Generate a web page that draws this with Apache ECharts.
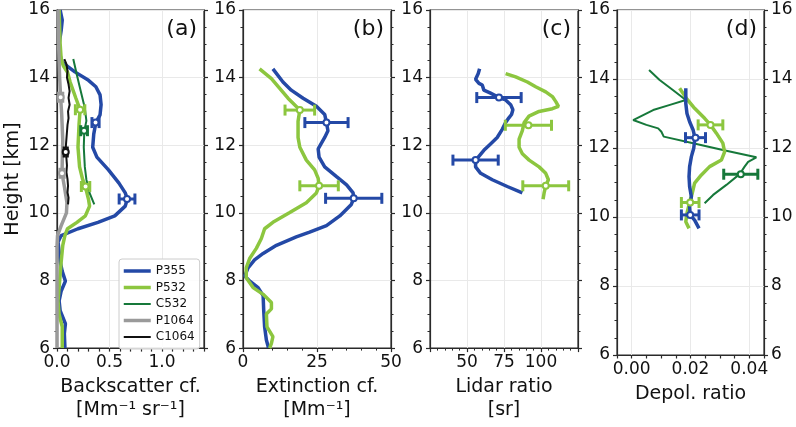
<!DOCTYPE html>
<html><head><meta charset="utf-8">
<script src="https://cdn.jsdelivr.net/npm/echarts@6/dist/echarts.min.js"></script>
<style>html,body{margin:0;padding:0;background:#fff}#c{width:796px;height:427px}</style>
</head><body><div id="c"></div>
<script>
// ---------- data: [value, height km] ----------
const aP355 = [[0.03,16.0],[0.05,15.7],[0.04,15.4],[0.02,15.0],[0.03,14.65],[0.05,14.45],[0.17,14.17],[0.30,13.92],[0.37,13.73],[0.41,13.49],[0.42,13.2],[0.41,12.9],[0.37,12.67],[0.35,12.33],[0.34,11.94],[0.38,11.65],[0.49,11.27],[0.59,10.88],[0.65,10.59],[0.67,10.41],[0.65,10.2],[0.55,9.91],[0.39,9.72],[0.2,9.53],[0.04,9.33],[0.01,9.14],[0.02,8.85],[0.03,8.56],[0.05,8.27],[0.08,7.98],[0.04,7.69],[0.02,7.4],[0.03,7.11],[0.08,6.72],[0.07,6.43],[0.075,6.05],[0.075,6.0]];
const aP532 = [[0.02,16.0],[0.025,15.5],[0.03,15.0],[0.04,14.55],[0.06,14.35],[0.1,14.16],[0.125,13.87],[0.18,13.39],[0.22,13.05],[0.21,12.62],[0.2,11.94],[0.215,11.36],[0.245,10.98],[0.27,10.78],[0.3,10.4],[0.31,10.2],[0.27,9.91],[0.19,9.72],[0.1,9.53],[0.075,9.33],[0.055,9.04],[0.04,8.56],[0.025,7.98],[0.01,7.4],[0.02,7.0],[0.05,6.63],[0.05,6.0]];
const aC532 = [[0.155,14.55],[0.19,14.07],[0.22,13.68],[0.265,13.1],[0.28,12.72],[0.26,12.43],[0.255,11.94],[0.265,11.36],[0.28,10.98],[0.31,10.59],[0.355,10.25]];
const aP1064 = [[0.01,16.0],[0.015,15.0],[0.02,14.5],[0.025,14.0],[0.035,13.39],[0.045,12.9],[0.055,12.13],[0.05,11.5],[0.048,11.17],[0.07,10.78],[0.095,10.3],[0.09,10.0],[0.04,9.62],[0.005,9.33],[0.0,9.0],[0.0,8.0],[0.0,7.0],[0.0,6.0]];
const aC1064 = [[0.07,14.55],[0.09,14.4],[0.1,14.2],[0.095,14.0],[0.11,13.8],[0.12,13.6],[0.11,13.4],[0.12,13.2],[0.105,13.0],[0.11,12.8],[0.1,12.6],[0.095,12.4],[0.09,12.2],[0.085,12.0],[0.085,11.8],[0.09,11.6],[0.095,11.4],[0.09,11.2],[0.1,11.0],[0.105,10.8],[0.1,10.6],[0.11,10.45],[0.105,10.25]];
const bP355 = [[10.1,14.26],[13.5,13.87],[16.3,13.63],[20.3,13.39],[24.8,13.15],[27.6,12.91],[28.2,12.67],[28.7,12.43],[27.6,12.23],[25.4,11.89],[25.7,11.65],[27.6,11.36],[31.6,11.07],[35.0,10.83],[37.2,10.59],[37.4,10.43],[36.6,10.25],[32.7,9.91],[28.2,9.62],[22.5,9.43],[18.0,9.29],[11.3,9.04],[6.8,8.8],[3.9,8.61],[1.7,8.37],[0.6,8.13],[2.3,7.98],[5.1,7.79],[6.8,7.55],[7.0,7.11],[7.3,6.63],[7.9,6.24],[8.5,6.05],[8.5,6.0]];
const bP532 = [[5.6,14.26],[9.6,13.97],[12.4,13.68],[15.2,13.39],[19.2,13.04],[18.6,12.71],[18.6,12.23],[19.2,11.94],[21.4,11.56],[24.2,11.27],[25.4,11.02],[25.7,10.8],[24.8,10.59],[21.4,10.3],[15.8,10.01],[10.1,9.72],[7.3,9.53],[6.2,9.24],[4.5,8.95],[2.3,8.66],[1.1,8.37],[1.1,8.08],[3.4,7.79],[6.8,7.59],[9.6,7.35],[9.6,7.16],[7.9,7.01],[8.1,6.63],[10.1,6.34],[9.6,6.14],[9.0,6.0]];
const cP355 = [[58.5,14.26],[57.6,14.12],[55.8,13.95],[58.1,13.83],[60.3,13.78],[61.4,13.63],[65.9,13.54],[71.6,13.41],[76.1,13.34],[79.5,13.2],[81.0,13.05],[80.1,12.91],[78.3,12.81],[76.1,12.67],[73.8,12.47],[70.4,12.23],[65.9,12.04],[61.4,11.85],[57.6,11.65],[55.8,11.56],[55.8,11.36],[59.2,11.17],[67.1,10.98],[77.2,10.78],[87.4,10.59]];
const cP532 = [[76.1,14.12],[82.9,14.02],[90.8,13.87],[96.4,13.73],[103.2,13.58],[107.7,13.44],[110,13.29],[111.8,13.15],[107.7,13.08],[98.7,13.0],[91.9,12.86],[88.6,12.67],[87.4,12.43],[85.2,12.18],[85.2,11.94],[87.4,11.75],[92,11.56],[98.7,11.36],[103.2,11.17],[105,10.98],[103.2,10.8],[102.1,10.59],[101.4,10.4]];
const dP355 = [[0.0184,13.73],[0.0184,13.29],[0.0188,13.0],[0.0197,12.76],[0.0209,12.52],[0.0215,12.3],[0.0211,11.99],[0.0203,11.75],[0.0197,11.46],[0.0195,11.17],[0.0197,10.88],[0.0203,10.59],[0.0197,10.3],[0.0199,10.06],[0.0214,9.91],[0.0229,9.67]];
const dP532 = [[0.0163,13.73],[0.0186,13.44],[0.0214,13.15],[0.0248,12.86],[0.0268,12.67],[0.0288,12.43],[0.031,12.14],[0.0316,11.89],[0.0305,11.65],[0.0265,11.46],[0.0237,11.22],[0.0214,10.98],[0.0206,10.69],[0.0197,10.42],[0.0188,10.11],[0.0184,9.86],[0.0195,9.67]];
const dC532 = [[0.0059,14.26],[0.0095,13.97],[0.014,13.68],[0.0184,13.39],[0.013,13.25],[0.0073,13.1],[0.0005,12.81],[0.005,12.67],[0.009,12.57],[0.0101,12.47],[0.0109,12.33],[0.0209,12.14],[0.031,11.94],[0.0424,11.73],[0.0396,11.6],[0.0384,11.46],[0.0368,11.25],[0.0322,10.93],[0.0277,10.64],[0.0248,10.4]];
// error bars: [value, height, half-width]
const errA_P355 = [[0.367,12.67,0.034],[0.667,10.41,0.075]];
const errA_P532 = [[0.22,13.05,0.045],[0.272,10.78,0.04]];
const errA_C532 = [[0.258,12.43,0.032]];
const errA_P1064 = [[0.035,13.42,0.02],[0.048,11.17,0.02]];
const errA_C1064 = [[0.083,11.8,0.015]];
const errB_P355 = [[28.2,12.67,7.3],[37.4,10.43,9.5]];
const errB_P532 = [[19.2,13.04,5.0],[25.7,10.8,6.5]];
const errC_P355 = [[71.6,13.41,15],[55.8,11.56,15.3]];
const errC_P532 = [[91.5,12.59,15.6],[103.2,10.8,15.5]];
const errD_P355 = [[0.0217,12.3,0.0034],[0.0199,10.06,0.003]];
const errD_P532 = [[0.0268,12.67,0.0042],[0.0199,10.42,0.003]];
const errD_C532 = [[0.0371,11.24,0.0058]];
const legendNames = ['P355','P532','C532','P1064','C1064'];
const panelLabels = ['(a)','(b)','(c)','(d)'];
const gridA = [0.5, 1.0];
const gridD = [0, 0.02, 0.04];

// ---------- styling ----------
const FONT = 'DejaVu Sans';
const TXT = '#111';
const COL = {P355:'#2449a6', P532:'#8cc63f', C532:'#16783a', P1064:'#9a9a9a', C1064:'#111111'};
const WID = {P355:3.5, P532:3.5, C532:2, P1064:3.5, C1064:2};
const panels = [{left:57,width:147},{left:243,width:148},{left:430,width:148},{left:617,width:147}];
const TOP = 10, HGT = 345, AX = '#2a2a2a', GRIDC = '#e9e9e9';

const grid = panels.map(p => ({left:p.left, top:TOP, width:p.width, height:HGT, show:true, borderColor:AX, borderWidth:1.2, backgroundColor:'transparent'}));

function yAx(i, pos, labels, name) {
  return {type:'value', gridIndex:i, position:pos, min:6, max:16, interval:2,
    axisLine:{show:true, onZero:false, lineStyle:{color:AX, width:1.2}},
    axisTick:{show:true, length:4, lineStyle:{color:AX, width:1.2}},
    minorTick:{show:true, splitNumber:4, length:2.5, lineStyle:{color:AX}},
    axisLabel:{show:labels, fontFamily:FONT, fontSize:17, color:TXT, margin:7},
    splitLine:{show:pos==='left', lineStyle:{color:GRIDC, width:1}},
    minorSplitLine:{show:false},
    name:name||'', nameLocation:'middle', nameGap:34,
    nameTextStyle:{fontFamily:FONT, fontSize:19, color:TXT}};
}
const yAxis = [];
for (let i = 0; i < 4; i++) {
  yAxis.push(yAx(i, 'left', true, i === 0 ? 'Height [km]' : ''));
  yAxis.push(yAx(i, 'right', i === 3, ''));
}
function xBase(i, name) {
  return {type:'value', gridIndex:i, position:'bottom',
    axisLine:{show:true, onZero:false, lineStyle:{color:AX, width:1.2}},
    axisTick:{show:true, length:4, lineStyle:{color:AX, width:1.2}},
    axisLabel:{fontFamily:FONT, fontSize:17, color:TXT, margin:6},
    splitLine:{show:true, lineStyle:{color:GRIDC, width:1}},
    name:name, nameLocation:'middle', nameGap:26,
    nameTextStyle:{fontFamily:FONT, fontSize:19, color:TXT, lineHeight:23}};
}
const xA = Object.assign(xBase(0, 'Backscatter cf.\n[Mm\u207B\u00B9 sr\u207B\u00B9]'), {min:0, max:1.4, interval:0.1});
xA.axisTick.length = 3.5;
xA.splitLine = {show:false};
xA.axisLabel.formatter = v => { const r = Math.round(v*10); return (r % 5 === 0 && r <= 10) ? (r/10).toFixed(1) : ''; };
const xB = Object.assign(xBase(1, 'Extinction cf.\n[Mm\u207B\u00B9]'), {min:0, max:50, interval:25});
xB.minorTick = {show:true, splitNumber:5, length:2.5, lineStyle:{color:AX}};
const xC = Object.assign(xBase(2, 'Lidar ratio\n[sr]'), {min:25, max:125, interval:25});
xC.minorTick = {show:true, splitNumber:5, length:2.5, lineStyle:{color:AX}};
xC.axisLabel.showMinLabel = false; xC.axisLabel.showMaxLabel = false;
const xD = Object.assign(xBase(3, 'Depol. ratio'), {min:-0.005, max:0.045, interval:0.005});
xD.axisTick.length = 3.5;
xD.splitLine = {show:false};
xD.axisLabel.formatter = v => { const r = Math.round(v*1000); return (r % 20 === 0 && r >= 0 && r <= 40) ? (r/1000).toFixed(2) : ''; };
const xAxis = [xA, xB, xC, xD];

function errRender(params, api) {
  const x = api.value(0), y = api.value(1), e = api.value(2);
  const p1 = api.coord([x - e, y]), p2 = api.coord([x + e, y]), c = api.coord([x, y]);
  const color = api.visual('color');
  const cap = 5.5, lw = 3;
  const st = {stroke:color, lineWidth:lw};
  return {type:'group', children:[
    {type:'line', shape:{x1:p1[0], y1:p1[1], x2:p2[0], y2:p2[1]}, style:st},
    {type:'line', shape:{x1:p1[0], y1:p1[1]-cap, x2:p1[0], y2:p1[1]+cap}, style:st},
    {type:'line', shape:{x1:p2[0], y1:p2[1]-cap, x2:p2[0], y2:p2[1]+cap}, style:st},
    {type:'circle', shape:{cx:c[0], cy:c[1], r:3}, style:{fill:'#fff', stroke:color, lineWidth:2}}
  ]};
}
function lineS(name, panel, data, extra) {
  const s = {type:'line', name:name, xAxisIndex:panel, yAxisIndex:panel*2, data:data,
    symbol:'none', showSymbol:false, silent:true, z:2,
    lineStyle:{width:WID[name], color:COL[name]}, itemStyle:{color:COL[name]}};
  return Object.assign(s, extra || {});
}
function errS(name, panel, data) {
  return {type:'custom', name:'err'+panel+name, xAxisIndex:panel, yAxisIndex:panel*2, data:data,
    renderItem:errRender, encode:{x:0, y:1}, itemStyle:{color:COL[name]}, z:4, silent:true, clip:false};
}
function vGrid(vals) {
  return {silent:true, symbol:'none', z:1, label:{show:false}, animation:false,
    lineStyle:{color:GRIDC, width:1, type:'solid'}, data:vals.map(v => ({xAxis:v}))};
}

const series = [
  lineS('P355', 0, aP355, {markLine: vGrid(gridA)}),
  lineS('P532', 0, aP532),
  lineS('C532', 0, aC532),
  lineS('P1064', 0, aP1064),
  lineS('C1064', 0, aC1064),
  errS('P355', 0, errA_P355), errS('P532', 0, errA_P532), errS('C532', 0, errA_C532),
  errS('P1064', 0, errA_P1064), errS('C1064', 0, errA_C1064),
  lineS('P355', 1, bP355), lineS('P532', 1, bP532),
  errS('P355', 1, errB_P355), errS('P532', 1, errB_P532),
  lineS('P355', 2, cP355), lineS('P532', 2, cP532),
  errS('P355', 2, errC_P355), errS('P532', 2, errC_P532),
  lineS('C532', 3, dC532, {markLine: vGrid(gridD)}),
  lineS('P532', 3, dP532), lineS('P355', 3, dP355),
  errS('C532', 3, errD_C532), errS('P532', 3, errD_P532), errS('P355', 3, errD_P355)
];

const graphic = panels.map((p, i) => ({type:'text', z:10, silent:true,
  style:{text:panelLabels[i], x:p.left + p.width - 7, y:TOP + 19, align:'right', verticalAlign:'middle',
    fontFamily:FONT, fontSize:22, fill:TXT}}));

const chart = echarts.init(document.getElementById('c'), null, {renderer:'canvas'});
chart.setOption({
  animation:false, backgroundColor:'#fff',
  grid, xAxis, yAxis, series, graphic,
  legend:{orient:'vertical', left:119, top:259, data:legendNames, selectedMode:false,
    itemWidth:27, itemHeight:12, itemGap:4.5, padding:[6,5,6,3],
    borderColor:'#cccccc', borderWidth:1, borderRadius:3, backgroundColor:'rgba(255,255,255,0.85)',
    textStyle:{fontFamily:FONT, fontSize:12, color:TXT},
    lineStyle:{width:'inherit'}, itemStyle:{opacity:0}}
});
</script></body></html>
